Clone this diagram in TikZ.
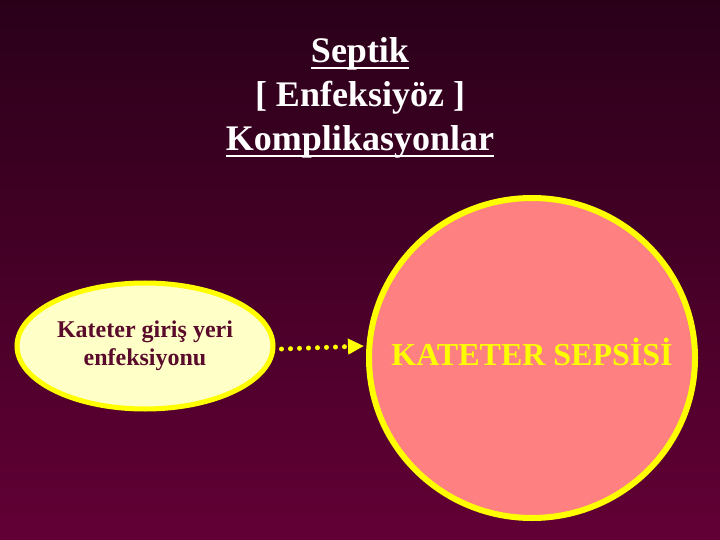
\documentclass[tikz,border=0pt]{standalone}
\usepackage{fontspec}
\setmainfont{Liberation Serif}
\usetikzlibrary{arrows.meta, shapes.geometric}
\definecolor{bgtop}{HTML}{2A0019}
\definecolor{bgbot}{HTML}{620035}
\definecolor{sari}{HTML}{FFFF00}
\definecolor{krem}{HTML}{FFFFC8}
\definecolor{somon}{HTML}{FF8080}
\definecolor{bordo}{HTML}{5A0A2A}
\newsavebox{\cizkutu}
\newcommand{\altciz}[1]{\sbox{\cizkutu}{#1}\leavevmode\rlap{\raisebox{\dimexpr-\dp\cizkutu+1bp\relax}{\rule{\wd\cizkutu}{2.5bp}}}\usebox{\cizkutu}}
\tikzset{
  baslik/.style={text=white, align=center, font=\fontsize{36bp}{44bp}\selectfont\bfseries},
  kucuk/.style={ellipse, draw=sari, line width=5bp, fill=krem, minimum width=256bp, minimum height=126bp,
    text=bordo, align=center, font=\fontsize{24bp}{28bp}\selectfont\bfseries, inner sep=0pt},
  buyuk/.style={ellipse, draw=sari, line width=6bp, fill=somon, minimum width=326bp, minimum height=320bp,
    text=sari, font=\fontsize{32bp}{38bp}\selectfont\bfseries, inner ysep=0pt, inner xsep=-30bp,
    text depth=12bp},
  noktali/.style={draw=sari, line width=5bp, line cap=round, dash pattern=on 0bp off 9bp,
    -{Triangle[length=16bp, width=15bp]}}
}
\begin{document}
\begin{tikzpicture}[x=1bp, y=-1bp]
  \shade[top color=bgtop, bottom color=bgbot] (0,0) rectangle (720,540);
  \useasboundingbox (0,0) rectangle (720,540);

  \node[baslik] (baslik) at (360,98) {\altciz{Septik}\\{[} Enfeksiyöz ]\\\altciz{Komplikasyonlar}};

  \node[kucuk] (giris) at (145,346) {Kateter giriş yeri\\enfeksiyonu};
  \node[buyuk] (sepsis) at (532,358) {KATETER SEPSİSİ};

  % yatay noktali ok
  \draw[noktali] ([xshift=6bp,yshift=-3bp]giris.east) -- ([xshift=-2bp]giris.east -| sepsis.west);
\end{tikzpicture}
\end{document}
